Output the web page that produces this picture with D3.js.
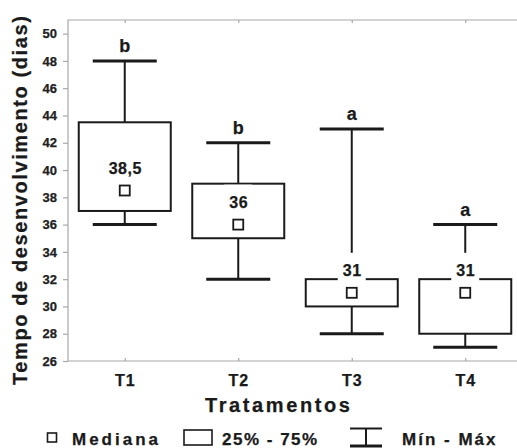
<!DOCTYPE html>
<html>
<head>
<meta charset="utf-8">
<script src="https://cdn.jsdelivr.net/npm/d3@7"></script>
<style>
  html, body { margin: 0; padding: 0; background: #fff; }
  svg { display: block; font-family: "Liberation Sans", Arial, sans-serif; font-weight: bold; }
  svg text { stroke: currentColor; stroke-width: 0.25px; }
</style>
</head>
<body>
<svg id="chart" width="517" height="448"></svg>
<script>
// Development time per treatment: min, quartiles, median, max
const categories = ["T1", "T2", "T3", "T4"];
const minVals = [36, 32, 28, 27];
const q1Vals = [37, 35, 30, 28];
const medianVals = [38.5, 36, 31, 31];
const q3Vals = [43.5, 39, 32, 32];
const maxVals = [48, 42, 43, 36];
const groupLetters = ["b", "b", "a", "a"];
const yTicks = [26, 28, 30, 32, 34, 36, 38, 40, 42, 44, 46, 48, 50];

const svg = d3.select("#chart").style("color", "#1a1a1a");
const plot = { left: 68, top: 20, right: 522, bottom: 361 };

const x = d3.scalePoint().domain(categories).range([plot.left, plot.right]).padding(0.5);
const y = d3.scaleLinear().domain([26, 51]).range([plot.bottom, plot.top]);

const ink = "#1a1a1a";
const frame = "#a8a8a8";
const boxW = 92, capW = 64, medSize = 10;
const fmtMedian = v => d3.format("~g")(v).replace(".", ",");

// Frame
svg.append("path")
  .attr("d", `M517,${plot.top}H${plot.left}V${plot.bottom}H517`)
  .attr("fill", "none").attr("stroke", frame).attr("stroke-width", 1.2);

// Left axis
const yAxis = svg.append("g").attr("transform", `translate(${plot.left},0)`)
  .call(d3.axisLeft(y).tickValues(yTicks).tickSize(5).tickPadding(6));
yAxis.select(".domain").remove();
yAxis.selectAll(".tick line").attr("stroke", frame).attr("stroke-width", 1.2);
yAxis.selectAll(".tick text")
  .attr("fill", "#222").style("font-size", "13px").style("font-weight", "bold")
  .style("font-family", "'Liberation Sans', Arial, sans-serif");

// Category ticks (inside, top and bottom) and labels
const xb = svg.append("g").attr("transform", `translate(0,${plot.bottom})`)
  .call(d3.axisBottom(x).tickSize(-3).tickPadding(14));
xb.select(".domain").remove();
xb.selectAll(".tick line").attr("stroke", frame).attr("stroke-width", 1.2);
xb.selectAll(".tick text")
  .attr("fill", ink).style("font-size", "16px").style("font-weight", "bold")
  .style("font-family", "'Liberation Sans', Arial, sans-serif")
  .style("letter-spacing", "1px");
const xt = svg.append("g").attr("transform", `translate(0,${plot.top})`)
  .call(d3.axisTop(x).tickSize(-3).tickFormat(""));
xt.select(".domain").remove();
xt.selectAll(".tick line").attr("stroke", frame).attr("stroke-width", 1.2);

// Boxes
const g = svg.append("g");
categories.forEach((c, i) => {
  const cx = x(c);
  const grp = g.append("g");
  // whisker stems
  grp.append("line").attr("x1", cx).attr("x2", cx)
    .attr("y1", y(maxVals[i])).attr("y2", y(q3Vals[i]))
    .attr("stroke", ink).attr("stroke-width", 2);
  grp.append("line").attr("x1", cx).attr("x2", cx)
    .attr("y1", y(q1Vals[i])).attr("y2", y(minVals[i]))
    .attr("stroke", ink).attr("stroke-width", 2);
  // caps
  [maxVals[i], minVals[i]].forEach(v => {
    grp.append("line").attr("x1", cx - capW / 2).attr("x2", cx + capW / 2)
      .attr("y1", y(v)).attr("y2", y(v))
      .attr("stroke", ink).attr("stroke-width", 3);
  });
  // interquartile box
  grp.append("rect")
    .attr("x", cx - boxW / 2).attr("y", y(q3Vals[i]))
    .attr("width", boxW).attr("height", y(q1Vals[i]) - y(q3Vals[i]))
    .attr("fill", "#fff").attr("stroke", ink).attr("stroke-width", 2);
  // median label with white backing
  const my = y(medianVals[i]);
  grp.append("rect")
    .attr("x", cx - 14).attr("y", my - 40).attr("width", 28).attr("height", 30)
    .attr("fill", "#fff");
  grp.append("text")
    .attr("x", cx + 0.5).attr("y", my - 17)
    .attr("text-anchor", "middle")
    .attr("fill", ink).style("font-size", "16px").style("letter-spacing", "0.5px")
    .text(fmtMedian(medianVals[i]));
  // median marker
  grp.append("rect")
    .attr("x", cx - medSize / 2).attr("y", my - medSize / 2)
    .attr("width", medSize).attr("height", medSize)
    .attr("fill", "#fff").attr("stroke", ink).attr("stroke-width", 1.8);
  // group letter
  grp.append("text")
    .attr("x", cx).attr("y", y(maxVals[i]) - 9)
    .attr("text-anchor", "middle")
    .attr("fill", ink).style("font-size", "18px")
    .text(groupLetters[i]);
});

// Axis titles
svg.append("text")
  .attr("transform", "translate(27,385) rotate(-90)")
  .attr("fill", ink).style("font-size", "20px").style("letter-spacing", "1.6px")
  .text("Tempo de desenvolvimento (dias)");
svg.append("text")
  .attr("x", 205).attr("y", 412)
  .attr("fill", ink).style("font-size", "20px").style("letter-spacing", "2.6px")
  .text("Tratamentos");

// Legend
const lg = svg.append("g");
lg.append("rect").attr("x", 47.5).attr("y", 433).attr("width", 9).attr("height", 9)
  .attr("fill", "#fff").attr("stroke", ink).attr("stroke-width", 1.6);
lg.append("text").attr("x", 72).attr("y", 445).attr("fill", ink)
  .style("font-size", "17px").style("letter-spacing", "3px").text("Mediana");
lg.append("rect").attr("x", 184).attr("y", 430).attr("width", 28).attr("height", 15)
  .attr("fill", "#fff").attr("stroke", ink).attr("stroke-width", 1.6);
lg.append("text").attr("x", 222).attr("y", 445).attr("fill", ink)
  .style("font-size", "17px").style("letter-spacing", "1.5px").text("25% - 75%");
lg.append("line").attr("x1", 350).attr("x2", 382).attr("y1", 428.5).attr("y2", 428.5)
  .attr("stroke", ink).attr("stroke-width", 2);
lg.append("line").attr("x1", 366).attr("x2", 366).attr("y1", 428.5).attr("y2", 446)
  .attr("stroke", ink).attr("stroke-width", 2);
lg.append("line").attr("x1", 350).attr("x2", 382).attr("y1", 446).attr("y2", 446)
  .attr("stroke", ink).attr("stroke-width", 3);
lg.append("text").attr("x", 402).attr("y", 445).attr("fill", ink)
  .style("font-size", "17px").style("letter-spacing", "2px").text("Mín - Máx");
</script>
</body>
</html>
